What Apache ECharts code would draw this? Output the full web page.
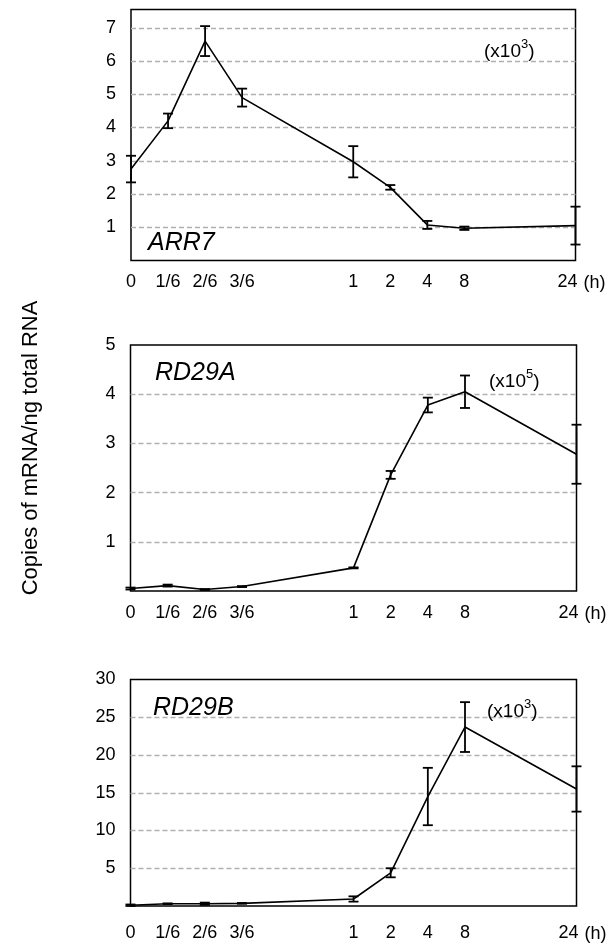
<!DOCTYPE html>
<html><head><meta charset="utf-8">
<script src="https://cdn.jsdelivr.net/npm/echarts@6/dist/echarts.min.js"></script>
<style>html,body{margin:0;padding:0;background:#fff}#c{width:614px;height:949px}</style>
</head><body><div id="c"></div>
<script>
// categories (blank slots keep the original uneven time spacing)
const times = ['0','1/6','2/6','3/6','','','1','2','4','8','','','24'];

// ARR7 (x10^3)
const arr7Mean = [2.75,4.2,6.6,4.9,null,null,2.97,2.2,1.07,0.97,null,null,1.05];
const arr7Err  = [0.4,0.22,0.45,0.27,null,null,0.47,0.07,0.12,0.05,null,null,0.57];
// RD29A (x10^5)
const rd29aMean = [0.05,0.11,0.03,0.09,null,null,0.47,2.36,3.78,4.05,null,null,2.78];
const rd29aErr  = [0.02,0.02,0.01,0.01,null,null,0.01,0.08,0.15,0.33,null,null,0.6];
// RD29B (x10^3)
const rd29bMean = [0.1,0.3,0.3,0.35,null,null,0.93,4.4,14.5,23.7,null,null,15.5];
const rd29bErr  = [0.1,0.05,0.15,0.05,null,null,0.35,0.6,3.8,3.3,null,null,3.0];

const yMax = [7.55, 5, 30];
const yInterval = [1, 1, 5];
const genes = ['ARR7','RD29A','RD29B'];
const multipliers = ['3','5','3'];

const FONT = '"Liberation Sans", Arial, sans-serif';
const TICK = 18;
const grids = [
  {left:131, top:9.5, width:444.5, height:251},
  {left:130.5, top:345, width:446, height:246},
  {left:130.5, top:679.5, width:446, height:226.5}
];
const labelMargins = [13, 13, 18];

const chart = echarts.init(document.getElementById('c'), null, {renderer:'canvas'});

const means = [arr7Mean, rd29aMean, rd29bMean];
const errs = [arr7Err, rd29aErr, rd29bErr];

const xAxes = [], yAxes = [], series = [];
grids.forEach((g, i) => {
  g.show = true; g.borderColor = '#000'; g.borderWidth = 1.5; g.backgroundColor = 'transparent';
  xAxes.push({
    type:'category', gridIndex:i, data:times, boundaryGap:false,
    axisLine:{show:false}, axisTick:{show:false}, splitLine:{show:false},
    axisLabel:{interval:0, margin:labelMargins[i], fontSize:TICK, color:'#000', fontFamily:FONT,
      formatter: v => v === '24' ? '{l|24}' : v,
      rich:{l:{fontSize:TICK, color:'#000', fontFamily:FONT, padding:[0,16,0,0]}}},
    name:'(h)', nameLocation:'end', nameGap:8,
    nameTextStyle:{fontSize:TICK, color:'#000', fontFamily:FONT, verticalAlign:'top', padding:[labelMargins[i]+1,0,0,0]}
  });
  yAxes.push({
    type:'value', gridIndex:i, min:0, max:yMax[i], interval:yInterval[i],
    axisLine:{show:false}, axisTick:{show:false},
    splitLine:{show:true, showMinLine:false, showMaxLine:false, lineStyle:{color:'#b0b0b0', type:[5,3], width:1.3}},
    axisLabel:{margin:15, fontSize:TICK, color:'#000', fontFamily:FONT,
      formatter: v => (v === 0 || Math.abs(v - Math.round(v)) > 1e-6) ? '' : String(v)}
  });
  series.push({
    type:'line', xAxisIndex:i, yAxisIndex:i, data:means[i], connectNulls:true,
    symbol:'none', lineStyle:{color:'#000', width:1.6}, z:3
  });
  const ebData = [];
  means[i].forEach((m, k) => { if (m !== null) ebData.push([k, m - errs[i][k], m + errs[i][k]]); });
  series.push({
    type:'custom', xAxisIndex:i, yAxisIndex:i, data:ebData, z:4,
    renderItem: (params, api) => {
      const x = api.value(0);
      const lo = api.coord([x, api.value(1)]);
      const hi = api.coord([x, api.value(2)]);
      const w = 5;
      const st = {stroke:'#000', lineWidth:1.8};
      return {type:'group', children:[
        {type:'line', shape:{x1:lo[0], y1:lo[1], x2:hi[0], y2:hi[1]}, style:st},
        {type:'line', shape:{x1:lo[0]-w, y1:lo[1], x2:lo[0]+w, y2:lo[1]}, style:st},
        {type:'line', shape:{x1:hi[0]-w, y1:hi[1], x2:hi[0]+w, y2:hi[1]}, style:st}
      ]};
    }
  });
});

const genePos = [[148, 244], [155, 374], [153, 709]];
const multPos = [[484, 50], [489, 380], [487, 710]];
const graphics = [];
genes.forEach((g, i) => {
  graphics.push({type:'text', left:genePos[i][0], top:genePos[i][1]-13, z:10,
    style:{text:g, fontSize:25, fontStyle:'italic', fill:'#000', fontFamily:FONT}});
  graphics.push({type:'text', left:multPos[i][0], top:multPos[i][1]-12, z:10,
    style:{text:'{a|(x10}{s|' + multipliers[i] + '}{a|)}', fontFamily:FONT,
      rich:{a:{fontSize:19, fill:'#000', fontFamily:FONT, verticalAlign:'bottom', lineHeight:23},
            s:{fontSize:13, fill:'#000', fontFamily:FONT, verticalAlign:'top', lineHeight:23}}}});
});
graphics.push({type:'text', x:31, y:448, rotation:Math.PI/2, z:10,
  style:{text:'Copies of mRNA/ng total RNA', fontSize:22, fill:'#000', fontFamily:FONT, align:'center', verticalAlign:'middle'}});

chart.setOption({
  animation:false,
  grid:grids, xAxis:xAxes, yAxis:yAxes, series:series, graphic:graphics
});
</script></body></html>
